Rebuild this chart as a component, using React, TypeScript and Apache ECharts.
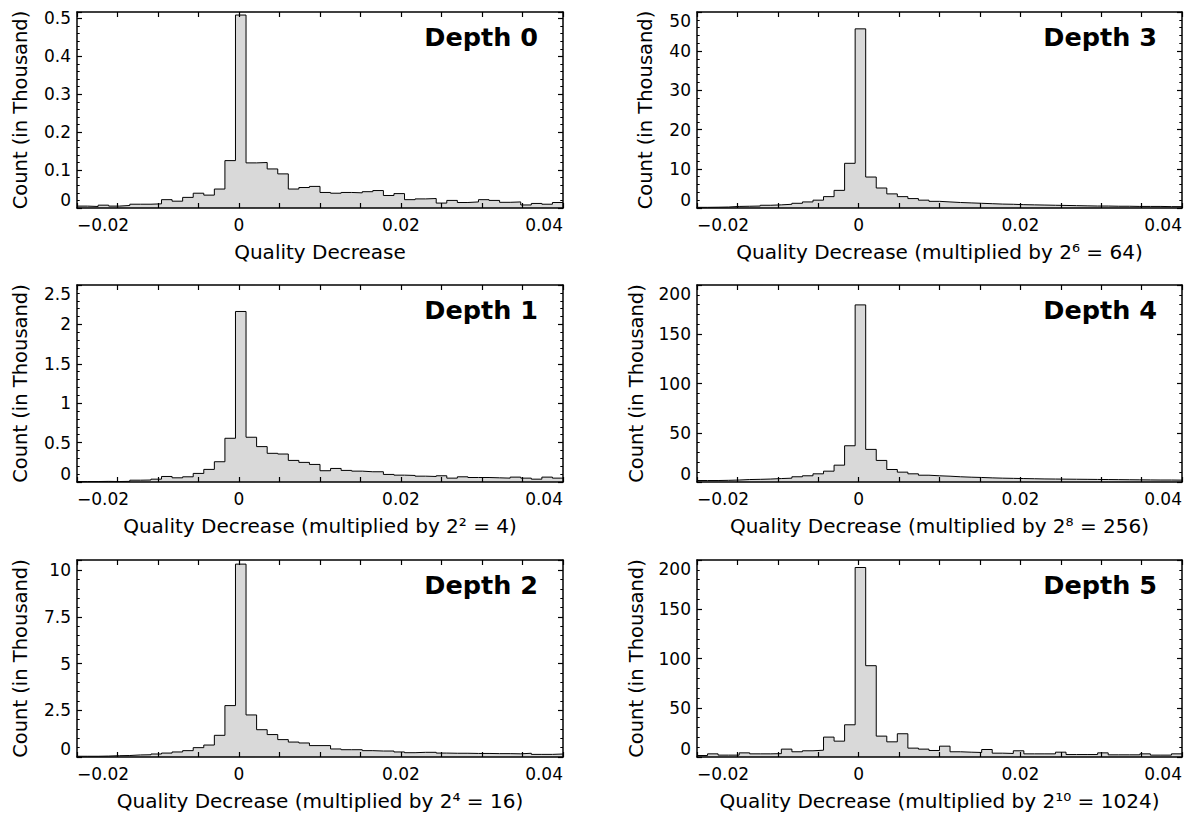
import React, { useEffect, useRef } from "react";
import * as echarts from "echarts";

// Histogram binning (46 equal bins over the plotted range)
const binMin = -0.02;
const binMax = 0.04;
const binCount = 46;

const depthTitles = ["Depth 0", "Depth 1", "Depth 2", "Depth 3", "Depth 4", "Depth 5"];
const xAxisNames = [
  "Quality Decrease",
  "Quality Decrease (multiplied by 2\u00B2 = 4)",
  "Quality Decrease (multiplied by 2\u2074 = 16)",
  "Quality Decrease (multiplied by 2\u2076 = 64)",
  "Quality Decrease (multiplied by 2\u2078 = 256)",
  "Quality Decrease (multiplied by 2\u00B9\u2070 = 1024)",
];
const yAxisName = "Count (in Thousand)";
const xLabelValues = [-0.02, 0, 0.02, 0.04];
const yMaxes = [0.517, 2.5, 10.54, 50, 200, 200];
const yIntervals = [0.1, 0.5, 2.5, 10, 50, 50];

// Counts in thousands per bin
const depth0Counts = [0.005, 0.004, 0.0075, 0.005, 0.0066, 0.01, 0.01, 0.011, 0.022, 0.018, 0.028, 0.039, 0.034, 0.05, 0.125, 0.509, 0.119, 0.12, 0.103, 0.09, 0.05, 0.054, 0.057, 0.041, 0.039, 0.041, 0.04, 0.043, 0.046, 0.033, 0.038, 0.022, 0.024, 0.025, 0.013, 0.02, 0.0145, 0.016, 0.022, 0.02, 0.015, 0.016, 0.008, 0.012, 0.01, 0.0145];
const depth1Counts = [0.006, 0.006, 0.008, 0.006, 0.008, 0.023, 0.025, 0.036, 0.07, 0.053, 0.066, 0.109, 0.16, 0.257, 0.555, 2.164, 0.568, 0.449, 0.364, 0.355, 0.274, 0.249, 0.223, 0.143, 0.172, 0.147, 0.138, 0.13, 0.13, 0.096, 0.087, 0.083, 0.074, 0.07, 0.079, 0.049, 0.066, 0.057, 0.057, 0.053, 0.049, 0.062, 0.049, 0.036, 0.062, 0.049];
const depth2Counts = [0.04, 0.04, 0.05, 0.07, 0.08, 0.11, 0.12, 0.16, 0.21, 0.27, 0.34, 0.5, 0.64, 1.16, 2.75, 10.32, 2.25, 1.46, 1.2, 0.93, 0.8, 0.75, 0.61, 0.61, 0.43, 0.39, 0.39, 0.34, 0.32, 0.32, 0.27, 0.23, 0.25, 0.25, 0.21, 0.2, 0.2, 0.19, 0.19, 0.18, 0.18, 0.17, 0.2, 0.14, 0.14, 0.16];
const depth3Counts = [0.17, 0.2, 0.25, 0.4, 0.45, 0.5, 0.7, 0.8, 0.95, 1.2, 1.55, 2.0, 2.9, 4.5, 11.4, 45.7, 7.9, 5.1, 3.6, 2.9, 2.4, 2.0, 1.7, 1.55, 1.4, 1.3, 1.2, 1.1, 1.0, 0.95, 0.85, 0.8, 0.75, 0.7, 0.65, 0.6, 0.55, 0.5, 0.5, 0.45, 0.45, 0.4, 0.4, 0.4, 0.35, 0.35];
const depth4Counts = [1.5, 1.5, 1.7, 2.0, 2.5, 2.7, 3.0, 3.5, 3.9, 5.3, 6.3, 8.3, 11.0, 17.1, 36.8, 179.8, 33.1, 21.9, 12.7, 10.0, 8.3, 6.9, 6.3, 5.9, 5.3, 4.9, 4.6, 4.2, 3.9, 3.7, 3.5, 3.3, 3.1, 3.0, 2.9, 2.8, 2.7, 2.6, 2.5, 2.4, 2.3, 2.2, 2.1, 2.0, 2.0, 1.9];
const depth5Counts = [1.5, 3.2, 1.9, 1.9, 4.2, 3.2, 3.2, 3.4, 8.0, 5.3, 6.3, 6.9, 20.2, 16.1, 32.7, 192.4, 92.7, 21.2, 15.4, 23.6, 9.0, 8.0, 6.6, 11.0, 5.3, 4.9, 4.6, 7.6, 3.9, 3.6, 6.3, 3.2, 3.2, 3.2, 4.9, 2.5, 2.5, 2.5, 4.2, 2.2, 2.2, 2.2, 3.2, 1.9, 1.9, 3.2];

const allCounts = [depth0Counts, depth1Counts, depth2Counts, depth3Counts, depth4Counts, depth5Counts];

// Layout (pixels)
const colLeft = [77, 697];
const colWidth = [486, 485];
const rowTop = [12, 285, 560];
const rowHeight = [196, 197, 197];
const yNameGap = [47, 47, 47, 42, 51, 51];

const FONT = "DejaVu Sans";

function fmtX(v: number): string {
  if (v === 0) return "0";
  return (v < 0 ? "\u2212" : "") + String(Math.abs(v));
}

export default function App() {
  const ref = useRef<HTMLDivElement>(null);
  useEffect(() => {
    const chart = echarts.init(ref.current!, null, { renderer: "svg" });
    const binWidth = (binMax - binMin) / binCount;
    const edges: number[] = [];
    for (let k = 0; k <= binCount; k++) edges.push(binMin + k * binWidth);

    const grids: any[] = [];
    const xAxes: any[] = [];
    const yAxes: any[] = [];
    const series: any[] = [];
    const graphics: any[] = [];

    const lineStyle = { color: "#000", width: 1.5 };
    const tickStyle = { color: "#000", width: 1.2 };

    allCounts.forEach((counts, i) => {
      const col = i < 3 ? 0 : 1;
      const row = i % 3;
      const left = colLeft[col];
      const width = colWidth[col];
      const top = rowTop[row];
      const height = rowHeight[row];
      grids.push({ left, top, width, height, containLabel: false });

      const yMax = yMaxes[i];
      const yInt = yIntervals[i];
      const maxOnTick = Math.abs(yMax / yInt - Math.round(yMax / yInt)) < 1e-6;

      const xBase = {
        type: "value",
        gridIndex: i,
        min: binMin,
        max: binMax,
        interval: 0.005,
        axisLine: { show: true, onZero: false, lineStyle },
        axisTick: { show: true, inside: true, length: 5, lineStyle: tickStyle },
        splitLine: { show: false },
        z: 5,
      };
      xAxes.push({
        ...xBase,
        position: "bottom",
        name: xAxisNames[i],
        nameLocation: "middle",
        nameGap: 34,
        nameTextStyle: { fontSize: 20, color: "#000", fontFamily: FONT },
        axisLabel: {
          show: true,
          margin: 8,
          fontSize: 17,
          color: "#000",
          fontFamily: FONT,
          alignMinLabel: "left",
          alignMaxLabel: "right",
          formatter: (v: number) => {
            const m = xLabelValues.find((t) => Math.abs(t - v) < 1e-9);
            return m === undefined ? "" : fmtX(m);
          },
        },
      });
      xAxes.push({ ...xBase, position: "top", axisLabel: { show: false } });

      const yBase = {
        type: "value",
        gridIndex: i,
        min: 0,
        max: yMax,
        interval: yInt,
        axisLine: { show: true, onZero: false, lineStyle },
        axisTick: { show: true, inside: true, length: 5, lineStyle: tickStyle },
        minorTick: { show: true, splitNumber: 5, length: 2.7, lineStyle: { color: "#000", width: 1 } },
        splitLine: { show: false },
        minorSplitLine: { show: false },
        z: 5,
      };
      yAxes.push({
        ...yBase,
        position: "left",
        name: yAxisName,
        nameLocation: "middle",
        nameRotate: 90,
        nameGap: yNameGap[i],
        nameTextStyle: { fontSize: 19.5, color: "#000", fontFamily: FONT },
        axisLabel: {
          show: true,
          margin: 6,
          fontSize: 17,
          color: "#000",
          fontFamily: FONT,
          showMaxLabel: maxOnTick,
          verticalAlignMinLabel: "bottom",
          verticalAlignMaxLabel: "top",
        },
      });
      yAxes.push({ ...yBase, position: "right", axisLabel: { show: false } });

      const data = counts.map((c, k) => [edges[k], c]);
      data.push([binMax, counts[counts.length - 1]]);
      series.push({
        type: "line",
        xAxisIndex: 2 * i,
        yAxisIndex: 2 * i,
        data,
        step: "end",
        symbol: "none",
        silent: true,
        z: 1,
        lineStyle: { color: "#000", width: 1 },
        areaStyle: { color: "#d9d9d9", opacity: 1 },
      });

      graphics.push({
        type: "text",
        x: left + width - 25,
        y: top + 25,
        z: 10,
        style: {
          text: depthTitles[i],
          font: `bold 25.5px "${FONT}"`,
          fill: "#000",
          textAlign: "right",
          textVerticalAlign: "middle",
          align: "right",
          verticalAlign: "middle",
        },
      });
    });

    chart.setOption({
      animation: false,
      backgroundColor: "#fff",
      textStyle: { fontFamily: FONT },
      grid: grids,
      xAxis: xAxes,
      yAxis: yAxes,
      series,
      graphic: graphics,
    });
    return () => chart.dispose();
  }, []);
  return (
    <div
      ref={ref}
      style={{ position: "absolute", left: 0, top: 0, width: 1195, height: 816, background: "#fff" }}
    />
  );
}
